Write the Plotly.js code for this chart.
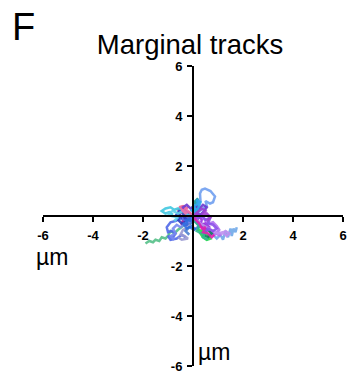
<!DOCTYPE html>
<html>
<head>
<meta charset="utf-8">
<script src="https://cdn.plot.ly/plotly-3.0.1.min.js"></script>
<style>
  html, body { margin: 0; padding: 0; background: #fff; }
  #chart { width: 351px; height: 375px; }
</style>
</head>
<body>
<div id="chart"></div>
<script>
// Cell tracks, each displaced so that it starts at the origin (µm)
const trackColors = ["#6f9ff0","#70a8e8","#55c088","#22dd44","#b070f0","#f06090","#d0108c","#5068e8",
                     "#9a9ad2","#40c8e0","#1a9a9a","#6a3ad0","#107a60","#9b30e0","#4a80d0","#c090f0",
                     "#3040c0","#30a8f0","#8a50e8","#30b890","#e020b0","#60d0e8","#7a88f0","#a040d0",
                     "#f070a8","#2f6fe0"];

const trackX = [
  [0, 0.1, 0.25, 0.2, 0.3, 0.28, 0.35, 0.48, 0.7, 0.88, 0.8, 0.68, 0.5, 0.55, 0.4, 0.25, 0.1],
  [0, 0.2, 0.4, 0.6, 0.75, 0.95, 1.1, 1.2, 1.3, 1.4, 1.5, 1.55, 1.62, 1.7, 1.75],
  [0, -0.2, -0.4, -0.6, -0.75, -0.9, -1.0, -1.1, -1.25, -1.35, -1.5, -1.6, -1.75, -1.9],
  [0, 0.1, 0.25, 0.2, 0.35, 0.5, 0.45, 0.6, 0.7, 0.55, 0.4, 0.3, 0.5, 0.65],
  [0, 0.2, 0.35, 0.5, 0.65, 0.8, 0.95, 1.05, 0.9, 1.1, 1.0, 0.85, 0.7],
  [0, -0.15, -0.3, -0.45, -0.6, -0.5, -0.35, -0.55, -0.4, -0.2],
  [0, -0.1, -0.25, -0.4, -0.3, -0.45, -0.35, -0.2, -0.3],
  [0, -0.2, -0.35, -0.5, -0.7, -0.9, -1.05, -1.0, -0.85, -0.7, -0.8, -1.0, -0.9, -0.65, -0.45, -0.3],
  [0, -0.1, -0.25, -0.4, -0.5, -0.35, -0.2, -0.45, -0.6],
  [0, -0.15, -0.3, -0.45, -0.6, -0.75, -0.9, -1.1, -1.25, -1.1, -0.95, -0.8],
  [0, 0.1, -0.05, 0.15, 0.05, 0.2, 0.1, 0.2],
  [0, 0.15, 0.3, 0.45, 0.55, 0.4, 0.25, 0.1, -0.1, -0.25, -0.4, -0.3, -0.15],
  [0, 0.15, 0.3, 0.45, 0.6, 0.75, 0.6, 0.4],
  [0, 0.2, 0.35, 0.3, 0.5, 0.65, 0.55, 0.4, 0.25],
  [0, -0.2, -0.1, 0.1, 0.25, 0.05, -0.15, -0.3, -0.15],
  [0, 0.3, 0.55, 0.8, 1.0, 1.2, 1.35, 1.45, 1.3, 1.1],
  [0, -0.2, -0.35, -0.2, -0.45, -0.6, -0.5, -0.7, -0.55, -0.35, -0.5],
  [0, 0.1, 0.05, 0.2, 0.15, 0.3, 0.2, 0.05, -0.1],
  [0, 0.2, 0.35, 0.5, 0.7, 0.6, 0.8, 0.95, 0.8, 0.6, 0.45],
  [0, 0.1, 0.25, 0.15, 0.35, 0.5, 0.4, 0.6],
  [0, 0.1, 0.25, 0.35, 0.5, 0.4, 0.6, 0.75, 0.85],
  [0, -0.2, -0.4, -0.6, -0.8, -1.0, -0.85, -0.6, -0.75],
  [0, -0.1, -0.3, -0.5, -0.65, -0.8, -0.7, -0.9, -0.75],
  [0, 0.2, 0.35, 0.5, 0.35, 0.55, 0.7, 0.55],
  [0, -0.2, -0.35, -0.25, -0.45, -0.3, -0.15],
  [0, -0.15, -0.05, -0.3, -0.2, -0.4, -0.25, -0.05, 0.1]
];
const trackY = [
  [0, 0.2, 0.3, 0.5, 0.6, 0.9, 1.05, 1.1, 1.0, 0.78, 0.55, 0.5, 0.6, 0.4, 0.3, 0.2, 0.05],
  [0, -0.2, -0.35, -0.5, -0.7, -0.9, -0.75, -0.95, -0.6, -0.85, -0.5, -0.8, -0.5, -0.65, -0.45],
  [0, -0.2, -0.4, -0.55, -0.7, -0.6, -0.8, -0.9, -0.85, -1.0, -0.95, -1.05, -1.0, -1.1],
  [0, -0.2, -0.35, -0.55, -0.6, -0.5, -0.7, -0.75, -0.9, -0.95, -0.85, -0.7, -0.65, -0.85],
  [0, -0.1, 0.05, -0.2, -0.3, -0.25, -0.4, -0.55, -0.7, -0.8, -0.6, -0.75, -0.55],
  [0, 0.15, 0.1, 0.3, 0.25, 0.1, 0.25, 0.35, 0.4, 0.3],
  [0, -0.15, -0.05, -0.2, -0.35, -0.3, -0.1, -0.25, -0.4],
  [0, 0.05, -0.15, -0.1, -0.2, -0.25, -0.45, -0.65, -0.6, -0.7, -0.85, -0.8, -0.95, -0.9, -0.75, -0.85],
  [0, -0.3, -0.5, -0.55, -0.75, -0.8, -0.9, -0.95, -0.85],
  [0, 0.1, 0.2, 0.15, 0.3, 0.25, 0.35, 0.3, 0.2, 0.1, 0.15, 0.05],
  [0, 0.2, 0.35, 0.4, 0.55, 0.7, 0.45, 0.15],
  [0, 0.1, 0.05, 0.2, 0.35, 0.45, 0.3, 0.4, 0.3, 0.45, 0.35, 0.2, 0.1],
  [0, -0.25, -0.4, -0.35, -0.55, -0.7, -0.85, -0.75],
  [0, 0.05, -0.15, -0.35, -0.3, -0.45, -0.6, -0.5, -0.3],
  [0, -0.1, -0.3, -0.2, -0.4, -0.55, -0.45, -0.6, -0.75],
  [0, -0.3, -0.45, -0.6, -0.7, -0.65, -0.8, -0.7, -0.6, -0.75],
  [0, 0.1, -0.05, -0.2, -0.3, -0.15, 0.05, 0.0, 0.2, 0.1, -0.1],
  [0, 0.2, 0.4, 0.5, 0.65, 0.55, 0.3, 0.15, 0.25],
  [0, -0.1, 0.0, -0.15, -0.05, -0.3, -0.35, -0.5, -0.6, -0.5, -0.65],
  [0, -0.25, -0.4, -0.6, -0.7, -0.6, -0.85, -0.95],
  [0, -0.15, -0.3, -0.5, -0.45, -0.65, -0.7, -0.85, -0.75],
  [0, 0.05, 0.2, 0.1, 0.2, 0.1, 0.0, -0.05, -0.2],
  [0, -0.2, -0.3, -0.45, -0.35, -0.5, -0.7, -0.8, -0.95],
  [0, 0.15, 0.3, 0.2, 0.05, 0.1, -0.05, -0.2],
  [0, 0.2, 0.3, 0.15, 0.25, 0.1, 0.2],
  [0, -0.1, -0.2, -0.15, -0.35, -0.3, -0.5, -0.4, -0.55]
];

const tickVals = [-6, -4, -2, 2, 4, 6];
const tickText = ["-6", "-4", "-2", "2", "4", "6"];

const traces = trackX.map((xs, i) => ({
  type: "scatter",
  mode: "lines",
  name: "track " + (i + 1),
  x: xs,
  y: trackY[i],
  line: { color: trackColors[i], width: 2.5 },
  opacity: 0.9,
  hoverinfo: "skip"
}));

const FONT = "Liberation Sans, Arial, sans-serif";

const axisCommon = {
  range: [-6, 6],
  anchor: "free",
  position: 0.5,
  showline: true,
  linecolor: "#000",
  linewidth: 2,
  ticks: "outside",
  ticklen: 5,
  tickwidth: 2,
  tickcolor: "#000",
  tickvals: tickVals,
  ticktext: tickText,
  ticklabelstandoff: 2,
  tickfont: { family: FONT, size: 13, color: "#000", weight: "bold" },
  showgrid: false,
  zeroline: false,
  fixedrange: true
};

const layout = {
  width: 351,
  height: 375,
  margin: { l: 43, r: 8, t: 66, b: 9 },
  paper_bgcolor: "#fff",
  plot_bgcolor: "#fff",
  showlegend: false,
  hovermode: false,
  title: {
    text: "Marginal tracks",
    font: { family: FONT, size: 27.5, color: "#000" },
    xref: "paper", x: 0.49, xanchor: "center",
    yref: "container", y: 0.883, yanchor: "middle"
  },
  xaxis: Object.assign({}, axisCommon, { domain: [0, 1] }),
  yaxis: Object.assign({}, axisCommon, { domain: [0, 1] }),
  annotations: [
    { text: "F", xref: "paper", yref: "paper", x: -0.11, y: 1.13, xanchor: "left", yanchor: "middle",
      showarrow: false, font: { family: FONT, size: 38, color: "#000" } },
    { text: "µm", xref: "paper", yref: "y", x: -0.03, y: -1.62, xanchor: "left", yanchor: "middle",
      showarrow: false, font: { family: FONT, size: 23, color: "#000" } },
    { text: "µm", xref: "x", yref: "y", x: 0.1, y: -5.45, xanchor: "left", yanchor: "middle",
      showarrow: false, font: { family: FONT, size: 23, color: "#000" } }
  ]
};

Plotly.newPlot("chart", traces, layout, { displayModeBar: false, staticPlot: true });
</script>
</body>
</html>
